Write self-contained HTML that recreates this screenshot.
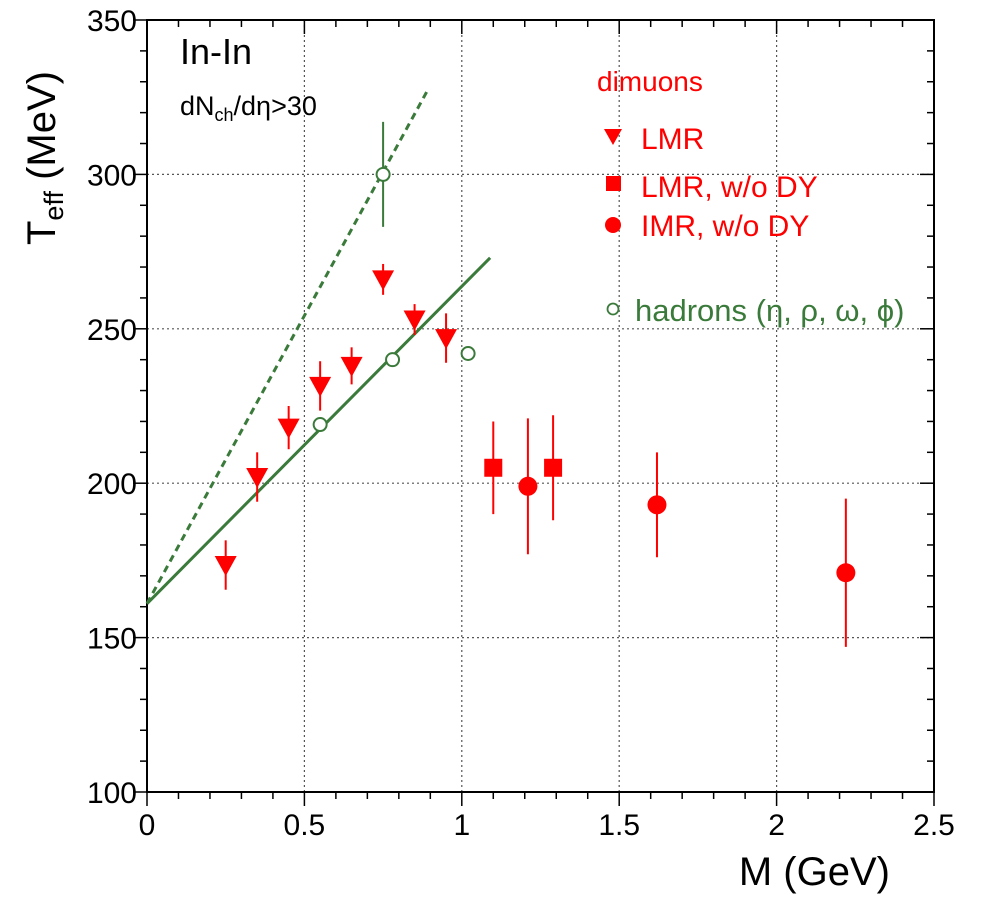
<!DOCTYPE html>
<html><head><meta charset="utf-8"><style>
html,body{margin:0;padding:0;background:#fff;}
svg{display:block;font-family:"Liberation Sans",sans-serif;}
</style></head><body>
<svg id="chart" width="1002" height="924" viewBox="0 0 1002 924" xmlns="http://www.w3.org/2000/svg"></svg>
<script>
const xTicks=[0,0.5,1,1.5,2,2.5];
const xTickLabels=["0","0.5","1","1.5","2","2.5"];
const yTicks=[100,150,200,250,300,350];
const yTickLabels=["100","150","200","250","300","350"];
const lmrX=[0.25,0.35,0.45,0.55,0.65,0.75,0.85,0.95];
const lmrY=[173.5,202,218,231.5,238,266,253,247];
const lmrErr=[8,8,7,8,6,5,5,8];
const sqX=[1.1,1.29];
const sqY=[205,205];
const sqErr=[15,17];
const imrX=[1.21,1.62,2.22];
const imrY=[199,193,171];
const imrErr=[22,17,24];
const hadX=[0.75,0.55,0.78,1.02];
const hadY=[300,219,240,242];
const hadErr=[17,0,0,0];
const solidLine=[[0,161],[1.09,273]];
const dashedLine=[[0,161],[0.89,327]];

const X0=147,X1=934,Y0=792,Y1=20;
const sx=v=>X0+(v-0)/(2.5)*(X1-X0);
const sy=v=>Y0-(v-100)/250*(Y0-Y1);
const svg=document.getElementById('chart');
const NS="http://www.w3.org/2000/svg";
function mk(tag,attrs,parent){const e=document.createElementNS(NS,tag);for(const k in attrs)e.setAttribute(k,attrs[k]);(parent||svg).appendChild(e);return e;}
const RED="#f00",GREEN="#3a7a3a";

const grid=mk('g',{});


xTicks.slice(1,-1).forEach(v=>mk('line',{x1:sx(v),x2:sx(v),y1:Y0,y2:Y1,stroke:'#555','stroke-width':1.2,'stroke-dasharray':'2,3'},grid));
yTicks.slice(1,-1).forEach(v=>mk('line',{x1:X0,x2:X1,y1:sy(v),y2:sy(v),stroke:'#555','stroke-width':1.2,'stroke-dasharray':'2,3'},grid));

const frame=mk('rect',{x:X0,y:Y1,width:X1-X0,height:Y0-Y1,fill:'none',stroke:'#000','stroke-width':2});



const ticks=mk('g',{stroke:'#000','stroke-width':1.5});


for(let v=100;v<=350;v+=10){const L=(v%50===0)?14:7;const y=sy(v);
 mk('line',{x1:X0-L,x2:X0,y1:y,y2:y},ticks);mk('line',{x1:X1-L,x2:X1,y1:y,y2:y},ticks);}
for(let i=0;i<=25;i++){const v=i/10;const L=(i%5===0)?14:7;const x=sx(v);
 mk('line',{x1:x,x2:x,y1:Y0,y2:Y0+L},ticks);mk('line',{x1:x,x2:x,y1:Y1,y2:Y1+L},ticks);}

xTicks.forEach((v,i)=>{const t=mk('text',{x:sx(v),y:Y0+43,'font-size':30,'text-anchor':'middle'});t.textContent=xTickLabels[i];
 
 });
yTicks.forEach((v,i)=>{const t=mk('text',{x:X0-10,y:sy(v)+11,'font-size':30,'text-anchor':'end'});t.textContent=yTickLabels[i];
 
 });

const xt=mk('text',{x:890,y:885,'font-size':40,'text-anchor':'end'});xt.textContent='M (GeV)';


const yt=mk('text',{transform:'translate(55,245) rotate(-90)','font-size':40});
yt.innerHTML='T<tspan font-size="27" dy="8">eff</tspan><tspan dy="-8"> (MeV)</tspan>';



const t1=mk('text',{x:180,y:64,'font-size':36});t1.textContent='In-In';


const t2=mk('text',{x:180,y:115,'font-size':27});t2.innerHTML='dN<tspan font-size="18" dy="6">ch</tspan><tspan dy="-6">/dη&gt;30</tspan>';



const sl=mk('line',{x1:sx(solidLine[0][0]),y1:sy(solidLine[0][1]),x2:sx(solidLine[1][0]),y2:sy(solidLine[1][1]),stroke:GREEN,'stroke-width':3});


const dl=mk('line',{x1:sx(dashedLine[0][0]),y1:sy(dashedLine[0][1]),x2:sx(dashedLine[1][0]),y2:sy(dashedLine[1][1]),stroke:GREEN,'stroke-width':3,'stroke-dasharray':'7,5'});



function err(x,y,e,col){if(e>0)mk('line',{x1:sx(x),x2:sx(x),y1:sy(y-e),y2:sy(y+e),stroke:col,'stroke-width':2});}
hadX.forEach((x,i)=>{err(x,hadY[i],hadErr[i],GREEN);
 const c=mk('circle',{cx:sx(x),cy:sy(hadY[i]),r:6.5,fill:'#fff',stroke:GREEN,'stroke-width':2});
 
 });
lmrX.forEach((x,i)=>{err(x,lmrY[i],lmrErr[i],RED);const cx=sx(x),cy=sy(lmrY[i]);
 const p=mk('polygon',{points:`${cx-11},${cy-9} ${cx+11},${cy-9} ${cx},${cy+11}`,fill:RED});
 
 });
sqX.forEach((x,i)=>{err(x,sqY[i],sqErr[i],RED);
 const r=mk('rect',{x:sx(x)-9,y:sy(sqY[i])-9,width:18,height:18,fill:RED});
 
 });
imrX.forEach((x,i)=>{err(x,imrY[i],imrErr[i],RED);
 const c=mk('circle',{cx:sx(x),cy:sy(imrY[i]),r:9.5,fill:RED});
 
 });

const lg=mk('g',{});


const lt=mk('text',{x:597,y:91,'font-size':28,fill:RED},lg);lt.textContent='dimuons';
mk('polygon',{points:'604,129 622,129 613,145',fill:RED},lg);
const a=mk('text',{x:641,y:149,'font-size':30,fill:RED},lg);a.textContent='LMR';
mk('rect',{x:606,y:176,width:15,height:15,fill:RED},lg);
const b=mk('text',{x:641,y:197,'font-size':30,fill:RED},lg);b.textContent='LMR, w/o DY';
mk('circle',{cx:613,cy:225,r:8,fill:RED},lg);
const c2=mk('text',{x:641,y:236,'font-size':30,fill:RED},lg);c2.textContent='IMR,  w/o DY';
mk('circle',{cx:613,cy:309,r:5.5,fill:'#fff',stroke:GREEN,'stroke-width':1.8},lg);
const d=mk('text',{x:635,y:321,'font-size':31,fill:GREEN},lg);d.textContent='hadrons (η, ρ, ω, ϕ)';
</script>
</body></html>
